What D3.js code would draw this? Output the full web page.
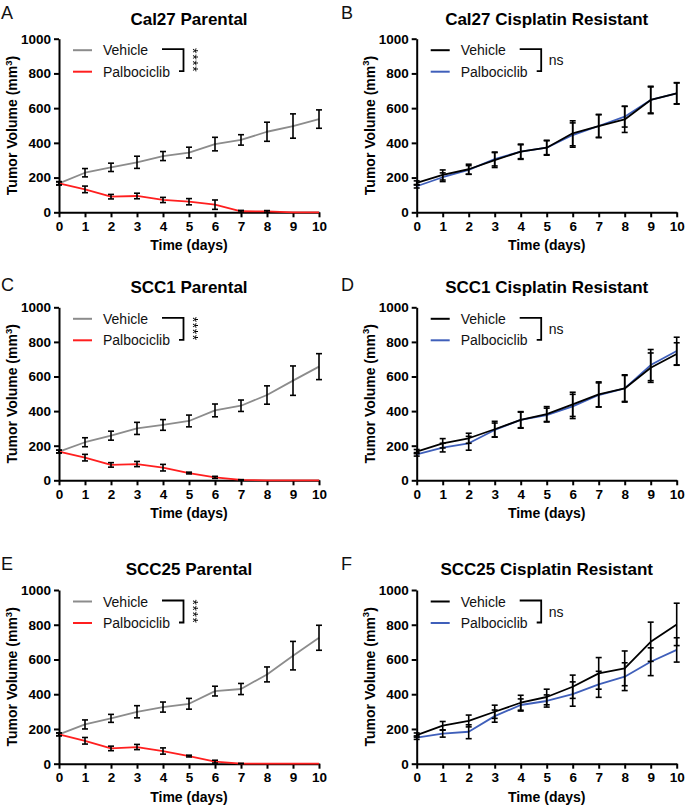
<!DOCTYPE html>
<html><head><meta charset="utf-8">
<script src="https://cdn.jsdelivr.net/npm/d3@7"></script>
<style>body{margin:0;background:#fff} svg{display:block;background:#fff}</style>
</head><body>
<svg id="c" width="685" height="808"></svg>
<script>
const days = [0,1,2,3,4,5,6,7,8,9,10];
const yTicks = [0,200,400,600,800,1000];
const seriesNames = ["Vehicle","Palbociclib"];

// A: Cal27 Parental
const cal27ParVeh    = [167,228,259,288,324,344,393,417,464,497,537];
const cal27ParVehErr = [8,24,24,35,26,31,39,30,55,70,53];
const cal27ParPal    = [167,132,90,94,71,61,44,6,5,0,0];
const cal27ParPalErr = [10,19,13,16,15,18,27,5,5,0,0];
// B: Cal27 Cisplatin Resistant
const cal27ResVeh    = [169,215,248,301,349,372,455,497,535,647,685];
const cal27ResVehErr = [12,29,29,43,44,43,72,67,75,79,62];
const cal27ResPal    = [150,202,244,307,349,372,445,497,551,647,685];
const cal27ResPalErr = [10,25,25,40,40,40,70,65,60,75,60];
// C: SCC1 Parental
const scc1ParVeh    = [166,220,258,300,320,343,404,431,493,576,657];
const scc1ParVehErr = [8,26,26,35,31,34,37,33,53,85,75];
const scc1ParPal    = [166,131,89,94,73,42,17,2,0,0,0];
const scc1ParPalErr = [8,19,13,15,19,5,6,2,0,0,0];
// D: SCC1 Cisplatin Resistant
const scc1ResVeh    = [166,214,243,295,349,383,439,497,531,651,730];
const scc1ResVehErr = [12,27,29,46,48,43,70,72,79,85,65];
const scc1ResPal    = [150,189,214,291,349,377,427,493,531,666,747];
const scc1ResPalErr = [10,25,40,40,45,40,70,70,75,90,80];
// E: SCC25 Parental
const scc25ParVeh    = [169,226,261,299,326,345,418,430,514,622,725];
const scc25ParVehErr = [8,26,23,35,29,31,28,32,43,82,72];
const scc25ParPal    = [169,132,88,96,73,44,12,1,0,0,0];
const scc25ParPalErr = [8,19,13,15,18,5,8,1,0,0,0];
// F: SCC25 Cisplatin Resistant
const scc25ResVeh    = [165,219,246,299,351,384,443,520,549,702,802];
const scc25ResVehErr = [12,24,34,38,43,45,67,91,100,113,122];
const scc25ResPal    = [150,173,184,274,338,361,401,457,501,587,655];
const scc25ResPalErr = [10,20,40,35,35,35,70,75,80,80,70];

const GRAY="#8c8c8c", RED="#ff1f1f", BLACK="#000000", BLUE="#3f5fba";

const panels = [
 {letter:"A", title:"Cal27 Parental", col:0,row:0, veh:cal27ParVeh, vehErr:cal27ParVehErr, pal:cal27ParPal, palErr:cal27ParPalErr, vc:GRAY, pc:RED, sig:"****"},
 {letter:"B", title:"Cal27 Cisplatin Resistant", col:1,row:0, veh:cal27ResVeh, vehErr:cal27ResVehErr, pal:cal27ResPal, palErr:cal27ResPalErr, vc:BLACK, pc:BLUE, sig:"ns"},
 {letter:"C", title:"SCC1 Parental", col:0,row:1, veh:scc1ParVeh, vehErr:scc1ParVehErr, pal:scc1ParPal, palErr:scc1ParPalErr, vc:GRAY, pc:RED, sig:"****"},
 {letter:"D", title:"SCC1 Cisplatin Resistant", col:1,row:1, veh:scc1ResVeh, vehErr:scc1ResVehErr, pal:scc1ResPal, palErr:scc1ResPalErr, vc:BLACK, pc:BLUE, sig:"ns"},
 {letter:"E", title:"SCC25 Parental", col:0,row:2, veh:scc25ParVeh, vehErr:scc25ParVehErr, pal:scc25ParPal, palErr:scc25ParPalErr, vc:GRAY, pc:RED, sig:"****"},
 {letter:"F", title:"SCC25 Cisplatin Resistant", col:1,row:2, veh:scc25ResVeh, vehErr:scc25ResVehErr, pal:scc25ResPal, palErr:scc25ResPalErr, vc:BLACK, pc:BLUE, sig:"ns"}
];

const cols = [{x0:59, x1:319, lx:1}, {x0:416.7, x1:676.7, lx:341}];
const rows = [{top:38.7, bottom:212.3, ly:18.5, ty:24.5},
              {top:307.3, bottom:480.3, ly:291, ty:292.5},
              {top:590, bottom:763.7, ly:570, ty:575}];

const FONT = "'Liberation Sans', Arial, Helvetica, sans-serif";
const svg = d3.select("#c");
svg.append("rect").attr("width",685).attr("height",808).attr("fill","#fff");
const defs = svg.append("defs");
const flt = defs.append("filter").attr("id","gray").attr("x","-50%").attr("y","-50%")
  .attr("width","200%").attr("height","200%");
flt.append("feColorMatrix").attr("type","saturate").attr("values",0);

panels.forEach(p => {
  const c = cols[p.col], r = rows[p.row];
  const g = svg.append("g");
  const x = d3.scaleLinear().domain([0,10]).range([c.x0, c.x1]);
  const y = d3.scaleLinear().domain([0,1000]).range([r.bottom, r.top]);

  // panel letter
  g.append("text").attr("x", c.lx).attr("y", r.ly)
    .attr("font-family",FONT).attr("font-size",18)
    .attr("fill","#111").text(p.letter);
  // title
  g.append("text").attr("x",(c.x0+c.x1)/2).attr("y",r.ty).attr("text-anchor","middle")
    .attr("font-family",FONT).attr("font-weight","bold").attr("font-size",17)
    .attr("fill","#000").text(p.title);

  // axes
  const ya = g.append("g").attr("transform",`translate(${c.x0},0)`)
    .call(d3.axisLeft(y).tickValues(yTicks).tickFormat(d3.format("d"))
      .tickSize(5).tickSizeOuter(0).tickPadding(3));
  const xa = g.append("g").attr("transform",`translate(0,${r.bottom})`)
    .call(d3.axisBottom(x).tickValues(days).tickFormat(d3.format("d"))
      .tickSize(5).tickSizeOuter(0).tickPadding(4));
  [ya,xa].forEach(a => {
    a.selectAll("path,line").attr("stroke","#000").attr("stroke-width",2);
    a.selectAll("text").attr("font-family",FONT).attr("font-weight","bold")
      .attr("font-size",13.5).attr("fill","#000");
  });

  // axis labels
  const yl = g.append("text")
    .attr("transform",`translate(${c.x0-42},${(r.top+r.bottom)/2}) rotate(-90)`)
    .attr("text-anchor","middle").attr("font-family",FONT).attr("font-weight","bold")
    .attr("font-size",14).attr("fill","#000");
  yl.append("tspan").text("Tumor Volume (mm");
  yl.append("tspan").attr("font-size",9.5).attr("dy",-5.5).text("3");
  yl.append("tspan").attr("dy",5.5).text(")");
  g.append("text").attr("x",(c.x0+c.x1)/2).attr("y",r.bottom+38).attr("text-anchor","middle")
    .attr("font-family",FONT).attr("font-weight","bold").attr("font-size",14)
    .attr("fill","#000").text("Time (days)");

  // lines
  const line = arr => d3.line().x((d,i)=>x(days[i])).y(d=>y(d))(arr);
  const parental = p.sig === "****";
  const order = parental ? [["veh",p.vc],["pal",p.pc]] : [["pal",p.pc],["veh",p.vc]];
  order.forEach(([k,col]) => {
    g.append("path").attr("d", line(p[k])).attr("fill","none").attr("stroke",col)
      .attr("stroke-width",1.8).attr("stroke-linejoin","round");
  });
  // error bars
  [["pal","palErr"],["veh","vehErr"]].forEach(([k,ek]) => {
    p[k].forEach((v,i) => {
      const e = p[ek][i];
      if (e <= 0) return;
      const xx = x(days[i]), y1 = y(v+e), y2 = y(Math.max(0,v-e));
      g.append("line").attr("x1",xx).attr("x2",xx).attr("y1",y1).attr("y2",y2)
        .attr("stroke","#000").attr("stroke-width",1.6);
      [y1,y2].forEach(yy => g.append("line").attr("x1",xx-3).attr("x2",xx+3)
        .attr("y1",yy).attr("y2",yy).attr("stroke","#000").attr("stroke-width",1.6));
    });
  });

  // legend
  const ly1 = r.top + 11.5, ly2 = r.top + 33;
  [[ly1,p.vc,seriesNames[0]],[ly2,p.pc,seriesNames[1]]].forEach(([yy,col,name]) => {
    g.append("line").attr("x1",c.x0+14).attr("x2",c.x0+33).attr("y1",yy).attr("y2",yy)
      .attr("stroke",col).attr("stroke-width",2);
    g.append("text").attr("x",c.x0+44).attr("y",yy+5).attr("font-family",FONT)
      .attr("font-size",14).attr("fill","#111").text(name);
  });
  // bracket
  const bx0 = c.x0+103, bx1 = c.x0+124.5, by0 = r.top+10.5, by1 = r.top+32.5;
  g.append("path").attr("d",`M${bx0},${by0}H${bx1}V${by1}H${bx1-4.5}`)
    .attr("fill","none").attr("stroke","#000").attr("stroke-width",1.8);
  if (parental) {
    g.append("g").attr("filter","url(#gray)").append("text")
      .attr("transform",`translate(${c.x0+129},${(by0+by1)/2}) rotate(90)`)
      .attr("text-anchor","middle").attr("font-family",FONT).attr("font-size",14)
      .attr("fill","#000").attr("letter-spacing",0.6).text(p.sig);
  } else {
    g.append("text").attr("x",c.x0+132).attr("y",(by0+by1)/2+5).attr("font-family",FONT)
      .attr("font-size",14).attr("fill","#111").text(p.sig);
  }
});
</script>
</body></html>
